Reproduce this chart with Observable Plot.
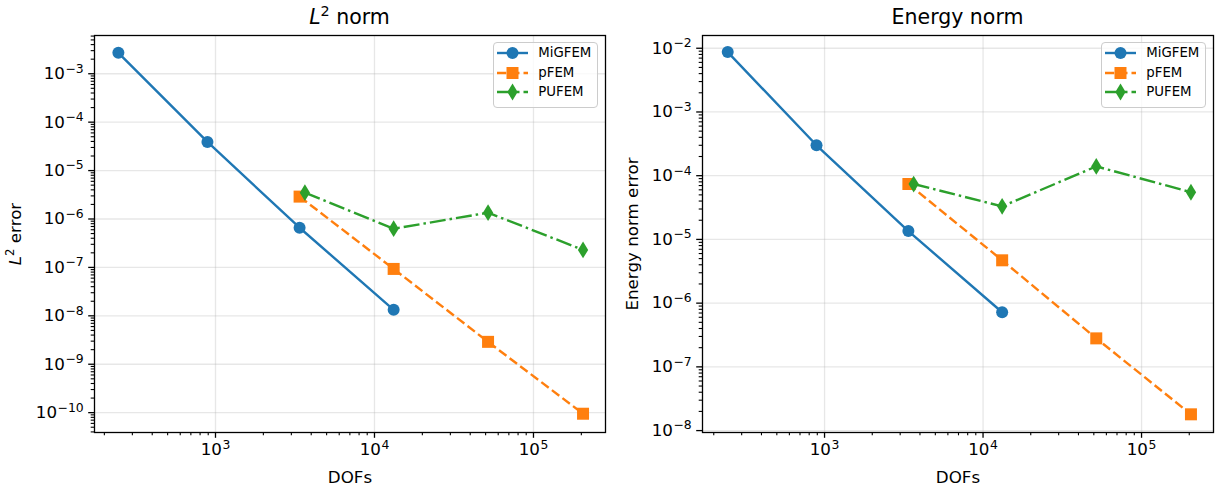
<!DOCTYPE html>
<html><head><meta charset="utf-8">
<script src="https://cdn.jsdelivr.net/npm/d3@7"></script>
<script src="https://cdn.jsdelivr.net/npm/@observablehq/plot@0.6"></script>
<style>
body{margin:0;background:#fff;font-family:"DejaVu Sans",sans-serif;}
#root{position:relative;width:1221px;height:488px;overflow:hidden;background:#fff;}
.plotbox{position:absolute;top:0;}
.title{position:absolute;top:5px;font-size:20.5px;line-height:24px;color:#000;white-space:nowrap;transform:translateX(-50%);}
.legend{position:absolute;box-sizing:border-box;border:1.3px solid #cccccc;border-radius:4px;background:rgba(255,255,255,0.8);font-size:13.3px;color:#000;}
.legend .row{position:absolute;left:0;height:20px;}
.legend .row svg{position:absolute;left:2px;top:0;}
.legend .row span{position:absolute;left:44px;top:1px;line-height:18px;white-space:nowrap;}
</style></head><body><div id="root"></div>
<script>
// ---- data ----
const seriesNames = ["MiGFEM", "pFEM", "PUFEM"];
const seriesColors = ["#1f77b4", "#ff7f0e", "#2ca02c"];
const dofsMiGFEM = [245, 890, 3380, 13200];
const dofsPFEM = [3380, 13200, 51800, 205000];
const dofsPUFEM = [3650, 13200, 51800, 205000];
const l2MiGFEM = [2.7e-3, 3.9e-5, 6.6e-7, 1.33e-8];
const l2PFEM = [2.9e-6, 9.3e-8, 2.9e-9, 9.5e-11];
const l2PUFEM = [3.5e-6, 6.3e-7, 1.35e-6, 2.3e-7];
const enMiGFEM = [8.7e-3, 3.0e-4, 1.35e-5, 7.2e-7];
const enPFEM = [7.4e-5, 4.7e-6, 2.8e-7, 1.8e-8];
const enPUFEM = [7.4e-5, 3.3e-5, 1.4e-4, 5.5e-5];
const xMajorTicks = [1e3, 1e4, 1e5];
const l2MajorTicks = [1e-10, 1e-9, 1e-8, 1e-7, 1e-6, 1e-5, 1e-4, 1e-3];
const enMajorTicks = [1e-8, 1e-7, 1e-6, 1e-5, 1e-4, 1e-3, 1e-2];
const panelTitles = ["<i>L</i><sup style=\"font-size:70%;vertical-align:0.55em;line-height:0\">2</sup> norm", "Energy norm"];
const xLabel = "DOFs";
const yLabels = ["L² error", "Energy norm error"];

// ---- helpers ----
const fmtPow = d => "10^" + Math.round(Math.log10(d));
function minorTicks(lo, hi) { const t = []; for (let k = lo; k < hi; k++) for (let m = 2; m <= 9; m++) t.push(+(m + "e" + k)); return t; }

const symCircle = {draw(ctx, size) { const r = Math.sqrt(size / Math.PI); ctx.moveTo(r, 0); ctx.arc(0, 0, r, 0, 2 * Math.PI); }};
const symSquare = {draw(ctx, size) { const r = Math.sqrt(size / Math.PI); ctx.rect(-r, -r, 2 * r, 2 * r); }};
const symThinDiamond = {draw(ctx, size) { const r = Math.sqrt(size / Math.PI); const h = r * 1.4, w = r * 0.86; ctx.moveTo(0, -h); ctx.lineTo(w, 0); ctx.lineTo(0, h); ctx.lineTo(-w, 0); ctx.closePath(); }};
const symbols = [symCircle, symSquare, symThinDiamond];
const dashes = [null, "9.25,4", "16,4,2.5,4"];
const LW = 2.4, R = 6, FS = 16.7;

function buildPanel(cfg) {
  const series = cfg.series.map((s, i) => s.x.map((x, j) => ({dofs: x, err: s.y[j], name: seriesNames[i]})));
  const marks = [
    Plot.gridX(xMajorTicks, {stroke: "#b0b0b0", strokeOpacity: 0.3, strokeWidth: 1.3}),
    Plot.gridY(cfg.yMajor, {stroke: "#b0b0b0", strokeOpacity: 0.3, strokeWidth: 1.3}),
    Plot.axisX(minorTicks(2, 6).filter(v => v >= cfg.xDomain[0] && v <= cfg.xDomain[1]), {tickSize: 3.3, strokeWidth: 1.1, tickFormat: () => "", label: null}),
    Plot.axisX(xMajorTicks, {tickSize: 5.8, tickPadding: 5, strokeWidth: 1.3, fontSize: FS, tickFormat: fmtPow, label: xLabel, labelAnchor: "center", labelArrow: "none", labelOffset: 50}),
    Plot.axisY(minorTicks(cfg.yMinor[0], cfg.yMinor[1]).filter(v => v >= cfg.yDomain[0] && v <= cfg.yDomain[1]), {tickSize: 3.3, strokeWidth: 1.1, tickFormat: () => "", label: null}),
    Plot.axisY(cfg.yMajor, {tickSize: 5.8, tickPadding: 5, strokeWidth: 1.3, fontSize: FS, tickFormat: fmtPow, label: cfg.yLabel, labelAnchor: "center", labelArrow: "none", labelOffset: cfg.yLabelOffset})
  ];
  series.forEach((rows, i) => {
    marks.push(Plot.line(rows, {x: "dofs", y: "err", stroke: seriesColors[i], strokeWidth: LW, strokeDasharray: dashes[i], strokeLinecap: "butt", strokeLinejoin: "round"}));
    marks.push(Plot.dot(rows, {x: "dofs", y: "err", fill: seriesColors[i], stroke: "none", r: R, symbol: symbols[i]}));
  });
  marks.push(Plot.frame({stroke: "#000", strokeWidth: 1.3}));
  const svg = Plot.plot({
    width: cfg.width, height: 488,
    marginLeft: cfg.mL, marginRight: cfg.mR, marginTop: 35, marginBottom: 56,
    style: {fontFamily: "DejaVu Sans", fontSize: FS + "px", color: "#000", background: "transparent", overflow: "visible"},
    x: {type: "log", domain: cfg.xDomain},
    y: {type: "log", domain: cfg.yDomain},
    marks
  });
  const box = document.createElement("div");
  box.className = "plotbox";
  box.style.left = cfg.left + "px";
  box.appendChild(svg);
  document.getElementById("root").appendChild(box);
  // mathtext-like superscripts on tick labels
  svg.querySelectorAll("text").forEach(t => {
    const m = /^10\^(-?\d+)$/.exec(t.textContent);
    if (m) {
      const e = m[1].replace("-", "\u2212");
      t.innerHTML = '10<tspan dx="0.5" font-size="' + (FS * 0.74).toFixed(1) + 'px" dy="-6.5">' + e + '</tspan>';
    }
  });
  svg.querySelectorAll('[aria-label="x-axis label"] text, [aria-label="y-axis label"] text').forEach(t => t.setAttribute("font-size", FS + "px"));
  if (cfg.italicL) {
    const t = svg.querySelector('[aria-label="y-axis label"] text');
    if (t) t.innerHTML = '<tspan font-style="italic">L</tspan><tspan font-size="11.7px" dy="-7">2</tspan><tspan dy="7"> error</tspan>';
  }
  // title
  const title = document.createElement("div");
  title.className = "title";
  title.style.left = (cfg.left + cfg.mL + (cfg.width - cfg.mL - cfg.mR) / 2) + "px";
  title.innerHTML = cfg.title;
  document.getElementById("root").appendChild(title);
  // legend
  const lg = document.createElement("div");
  lg.className = "legend";
  const lgW = 105, lgH = 66;
  lg.style.left = (cfg.left + cfg.width - cfg.mR - 6.7 - lgW) + "px";
  lg.style.top = (35 + 6.7) + "px";
  lg.style.width = lgW + "px";
  lg.style.height = lgH + "px";
  seriesNames.forEach((name, i) => {
    const row = document.createElement("div");
    row.className = "row";
    row.style.top = (0.5 + i * 19.5) + "px";
    row.style.width = lgW + "px";
    const s = d3.create("svg").attr("width", 34).attr("height", 20);
    s.append("line").attr("x1", 1).attr("x2", 32).attr("y1", 10).attr("y2", 10)
      .attr("stroke", seriesColors[i]).attr("stroke-width", LW).attr("stroke-dasharray", dashes[i]);
    s.append("path").attr("transform", "translate(16.5,10)").attr("fill", seriesColors[i])
      .attr("d", d3.symbol(symbols[i], R * R * Math.PI)());
    row.appendChild(s.node());
    const sp = document.createElement("span");
    sp.textContent = name;
    row.appendChild(sp);
    lg.appendChild(row);
  });
  document.getElementById("root").appendChild(lg);
}

buildPanel({
  left: 0, width: 610, mL: 94, mR: 5,
  xDomain: [10 ** 2.239, 10 ** 5.453], yDomain: [10 ** -10.41, 10 ** -2.21],
  yMajor: l2MajorTicks, yMinor: [-11, -2],
  series: [{x: dofsMiGFEM, y: l2MiGFEM}, {x: dofsPFEM, y: l2PFEM}, {x: dofsPUFEM, y: l2PUFEM}],
  yLabel: yLabels[0], yLabelOffset: 85, italicL: true, title: panelTitles[0]
});
buildPanel({
  left: 610, width: 611, mL: 92, mR: 8,
  xDomain: [10 ** 2.23, 10 ** 5.454], yDomain: [10 ** -8.03, 10 ** -1.80],
  yMajor: enMajorTicks, yMinor: [-9, -1],
  series: [{x: dofsMiGFEM, y: enMiGFEM}, {x: dofsPFEM, y: enPFEM}, {x: dofsPUFEM, y: enPUFEM}],
  yLabel: yLabels[1], yLabelOffset: 76, italicL: false, title: panelTitles[1]
});
</script></body></html>
